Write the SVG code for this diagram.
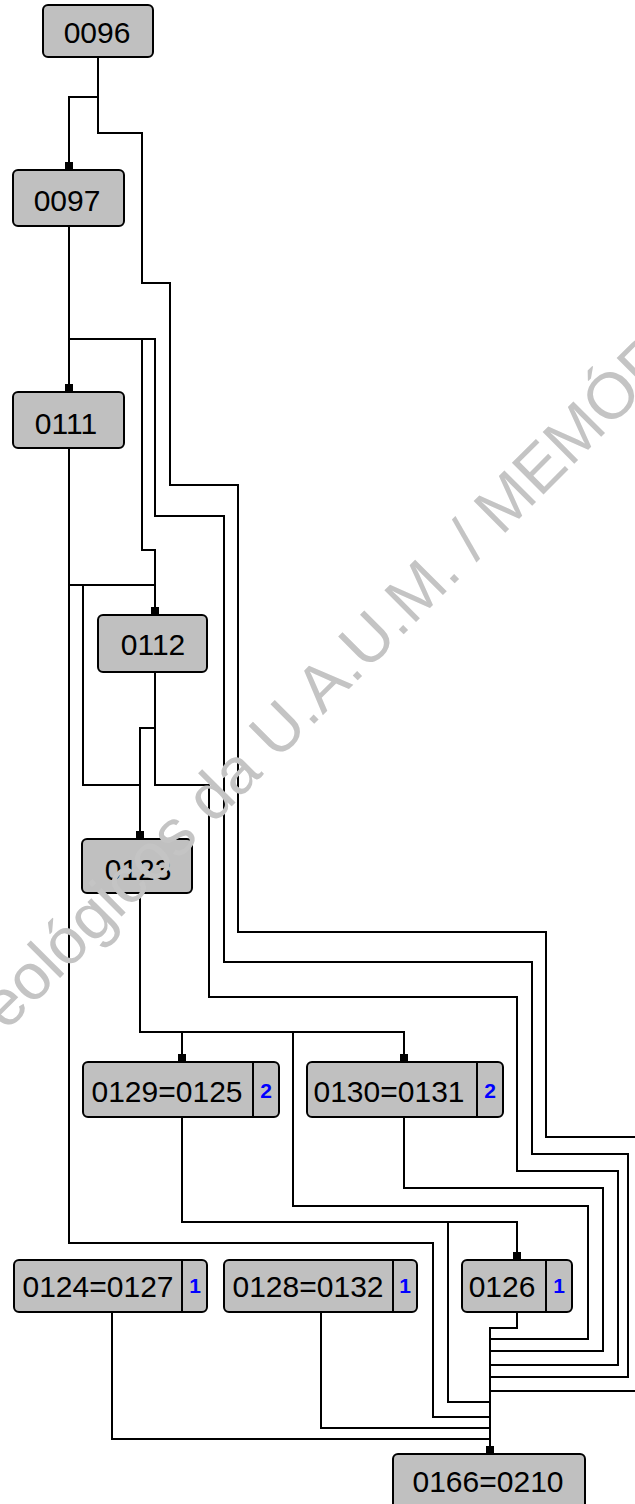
<svg xmlns="http://www.w3.org/2000/svg" width="635" height="1504" viewBox="0 0 635 1504">
<style>
.box{fill:#c0c0c0;stroke:#000;stroke-width:2}
.div{stroke:#000;stroke-width:2}
.t{font-family:"Liberation Sans",Arial,sans-serif;font-size:30px;fill:#000;text-anchor:middle}
.b{font-family:"Liberation Sans",Arial,sans-serif;font-size:21px;font-weight:bold;fill:#0000ff;text-anchor:middle}
.c{fill:none;stroke:#000;stroke-width:2}
.wm{font-family:"Liberation Sans",Arial,sans-serif;font-size:65px;fill:#c4c4c4}
</style>
<defs>
<marker id="sq" markerUnits="userSpaceOnUse" markerWidth="8" markerHeight="8" viewBox="0 0 8 8" refX="4" refY="8" orient="0">
<rect x="0" y="0" width="8" height="8" fill="#000"/>
</marker>
</defs>
<rect width="635" height="1504" fill="#fff"/>
<g id="connectors">
<path class="c" d="M98,57 V97 H69 V170" marker-end="url(#sq)"/>
<path class="c" d="M98,97 V133 H142 V283 H170 V485 H238 V932 H546 V1137 H636"/>
<path class="c" d="M69,226 V392" marker-end="url(#sq)"/>
<path class="c" d="M69,339 H142 V550 H155 V615" marker-end="url(#sq)"/>
<path class="c" d="M142,339 H155 V516 H224 V962 H532 V1154 H628 V1377 H490"/>
<path class="c" d="M69,448 V585 H155"/>
<path class="c" d="M83,585 V785 H140"/>
<path class="c" d="M69,585 V1243 H433 V1417 H490"/>
<path class="c" d="M155,672 V728 H140 V839" marker-end="url(#sq)"/>
<path class="c" d="M155,728 V785 H209 V997 H517 V1171 H618 V1365 H490"/>
<path class="c" d="M140,893 V1032 H404 V1062" marker-end="url(#sq)"/>
<path class="c" d="M182,1032 V1062" marker-end="url(#sq)"/>
<path class="c" d="M293,1032 V1206 H588 V1339 H490"/>
<path class="c" d="M182,1117 V1222 H517 V1260" marker-end="url(#sq)"/>
<path class="c" d="M448,1222 V1402 H490"/>
<path class="c" d="M404,1117 V1188 H603 V1351 H490"/>
<path class="c" d="M517,1312 V1328 H490 V1454" marker-end="url(#sq)"/>
<path class="c" d="M636,1391 H490"/>
<path class="c" d="M112,1312 V1439 H490"/>
<path class="c" d="M321,1312 V1428 H490"/>
</g>
<g id="n0096"><rect class="box" x="43" y="5" width="110" height="52" rx="5"/><text class="t" x="97" y="43">0096</text></g>
<g id="n0097"><rect class="box" x="13" y="170" width="111" height="56" rx="5"/><text class="t" x="67" y="211">0097</text></g>
<g id="n0111"><rect class="box" x="13" y="392" width="111" height="56" rx="5"/><text class="t" x="66" y="434">0111</text></g>
<g id="n0112"><rect class="box" x="98" y="615" width="109" height="57" rx="5"/><text class="t" x="153" y="655">0112</text></g>
<g id="n0123"><rect class="box" x="82" y="839" width="110" height="54" rx="5"/><text class="t" x="138" y="880">0123</text></g>
<g id="n0129"><rect class="box" x="83" y="1062" width="196" height="55" rx="5"/><line class="div" x1="253" y1="1062" x2="253" y2="1117"/><text class="t" x="167" y="1102">0129=0125</text><text class="b" x="266" y="1098">2</text></g>
<g id="n0130"><rect class="box" x="307" y="1062" width="196" height="55" rx="5"/><line class="div" x1="477" y1="1062" x2="477" y2="1117"/><text class="t" x="389" y="1102">0130=0131</text><text class="b" x="490" y="1098">2</text></g>
<g id="n0124"><rect class="box" x="14" y="1260" width="193" height="52" rx="5"/><line class="div" x1="182" y1="1260" x2="182" y2="1312"/><text class="t" x="98" y="1297">0124=0127</text><text class="b" x="195" y="1293">1</text></g>
<g id="n0128"><rect class="box" x="224" y="1260" width="193" height="52" rx="5"/><line class="div" x1="393" y1="1260" x2="393" y2="1312"/><text class="t" x="308" y="1297">0128=0132</text><text class="b" x="405" y="1293">1</text></g>
<g id="n0126"><rect class="box" x="462" y="1260" width="110" height="52" rx="5"/><line class="div" x1="546" y1="1260" x2="546" y2="1312"/><text class="t" x="502" y="1297">0126</text><text class="b" x="559" y="1293">1</text></g>
<g id="n0166"><rect class="box" x="393" y="1454" width="192" height="56" rx="5"/><text class="t" x="488" y="1492">0166=0210</text></g>
<text class="wm" transform="translate(6,1032) rotate(-45)">eológicos da U.A.U.M. / MEMÓR</text>
</svg>
